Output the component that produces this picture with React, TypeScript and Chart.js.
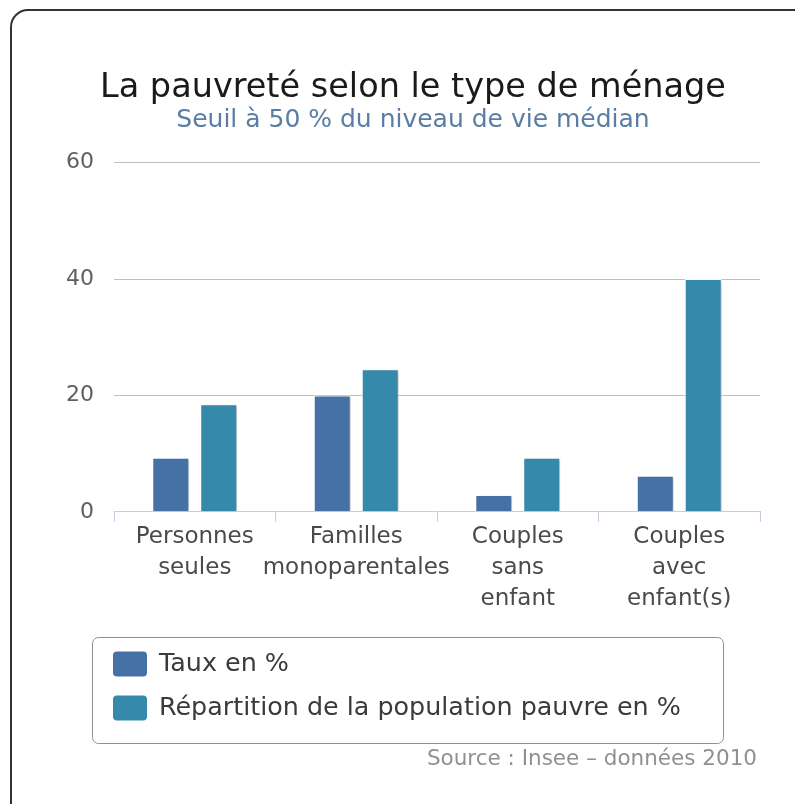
import React, { useEffect, useRef } from 'react';
import { Chart, registerables } from 'chart.js';

Chart.register(...registerables);

const categories: string[][] = [
  ['Personnes', 'seules'],
  ['Familles', 'monoparentales'],
  ['Couples', 'sans', 'enfant'],
  ['Couples', 'avec', 'enfant(s)'],
];
const tauxValues: number[] = [9.3, 20.0, 2.9, 6.2];
const repartitionValues: number[] = [18.5, 24.5, 9.3, 40.0];
const seriesNames: string[] = ['Taux en %', 'Répartition de la population pauvre en %'];
const seriesColors: string[] = ['#4571a6', '#3589aa'];
const yTickValues: number[] = [0, 20, 40, 60];
const titleText = 'La pauvreté selon le type de ménage';
const subtitleText = 'Seuil à 50 % du niveau de vie médian';
const sourceText = 'Source : Insee – données 2010';

const FONT = '"DejaVu Sans", Verdana, sans-serif';

const shadowPlugin = {
  id: 'barShadow',
  beforeDatasetsDraw(chart: any) {
    const ctx = chart.ctx;
    ctx.save();
    ctx.shadowColor = 'rgba(0,0,0,0.22)';
    ctx.shadowOffsetX = 3;
    ctx.shadowOffsetY = 1;
    ctx.shadowBlur = 3;
  },
  afterDatasetsDraw(chart: any) {
    chart.ctx.restore();
  },
};

const legendPlugin = {
  id: 'boxLegend',
  afterDraw(chart: any) {
    const ctx = chart.ctx;
    ctx.save();
    ctx.beginPath();
    ctx.roundRect(92.5, 637.5, 631, 106, 6);
    ctx.strokeStyle = '#8f8f8f';
    ctx.lineWidth = 1;
    ctx.stroke();
    chart.data.datasets.forEach((ds: any, i: number) => {
      const cy = 664 + i * 44;
      ctx.fillStyle = ds.backgroundColor;
      ctx.beginPath();
      ctx.roundRect(113, cy - 12.5, 34, 25, 4);
      ctx.fill();
      ctx.fillStyle = '#3a3a3a';
      ctx.font = `25.4px ${FONT}`;
      ctx.textBaseline = 'middle';
      ctx.textAlign = 'left';
      ctx.fillText(ds.label, 159, cy);
    });
    ctx.fillStyle = '#909090';
    ctx.font = `21.5px ${FONT}`;
    ctx.textAlign = 'right';
    ctx.textBaseline = 'middle';
    ctx.fillText(sourceText, 757, 759);
    ctx.restore();
  },
};

export default function App() {
  const canvasRef = useRef<HTMLCanvasElement | null>(null);

  useEffect(() => {
    document.body.style.margin = '0';
    document.body.style.overflow = 'hidden';
    const canvas = canvasRef.current;
    if (!canvas) return;
    const chart = new Chart(canvas, {
      type: 'bar',
      data: {
        labels: categories,
        datasets: [
          {
            label: seriesNames[0],
            data: tauxValues,
            backgroundColor: seriesColors[0],
            borderColor: '#ffffff',
            borderWidth: 1,
            categoryPercentage: 0.594,
            barPercentage: 0.771,
          },
          {
            label: seriesNames[1],
            data: repartitionValues,
            backgroundColor: seriesColors[1],
            borderColor: '#ffffff',
            borderWidth: 1,
            categoryPercentage: 0.594,
            barPercentage: 0.771,
          },
        ],
      },
      options: {
        animation: false,
        responsive: false,
        devicePixelRatio: 1,
        layout: { padding: { left: 66, right: 35, top: 0, bottom: 189 } },
        plugins: {
          legend: { display: false },
          tooltip: { enabled: false },
          title: {
            display: true,
            text: titleText,
            color: '#1a1a1a',
            font: { family: FONT, size: 33.5, weight: 'normal', lineHeight: 1.0 },
            padding: { top: 71.2, bottom: 0 },
          },
          subtitle: {
            display: true,
            text: subtitleText,
            color: '#5b7da3',
            font: { family: FONT, size: 25, weight: 'normal', lineHeight: 1.2 },
            padding: { top: 0.8, bottom: 27.2 },
          },
        },
        scales: {
          x: {
            afterFit: (axis: any) => {
              axis.paddingLeft = 0;
              axis.paddingRight = 0;
            },
            grid: {
              drawOnChartArea: false,
              drawTicks: true,
              tickLength: 10,
              color: '#C0D0E0',
              offset: true,
            },
            border: { display: true, color: '#C0D0E0', width: 1 },
            ticks: {
              color: '#4a4a4a',
              font: { family: FONT, size: 23, lineHeight: 1.35 },
              padding: 0,
              maxRotation: 0,
              autoSkip: false,
            },
          },
          y: {
            min: 0,
            max: 60,
            afterBuildTicks: (axis: any) => {
              axis.ticks = yTickValues.map((v) => ({ value: v }));
            },
            afterFit: (axis: any) => {
              axis.width = 48;
            },
            grid: {
              drawTicks: false,
              color: (c: any) => (c.tick && c.tick.value === 0 ? 'rgba(0,0,0,0)' : '#C0C0C0'),
              lineWidth: 1,
            },
            border: { display: false },
            ticks: {
              color: '#606060',
              font: { family: FONT, size: 22 },
              padding: 20,
            },
          },
        },
      },
      plugins: [shadowPlugin, legendPlugin],
    });
    return () => chart.destroy();
  }, []);

  return (
    <div style={{ position: 'relative', width: 795, height: 804, overflow: 'hidden', background: '#fff' }}>
      <canvas ref={canvasRef} width={795} height={804} style={{ display: 'block' }} />
      <div
        style={{
          position: 'absolute',
          left: 10,
          top: 9,
          width: 830,
          height: 830,
          border: '2px solid #333',
          borderRadius: 18,
          boxSizing: 'border-box',
          pointerEvents: 'none',
        }}
      />
    </div>
  );
}
